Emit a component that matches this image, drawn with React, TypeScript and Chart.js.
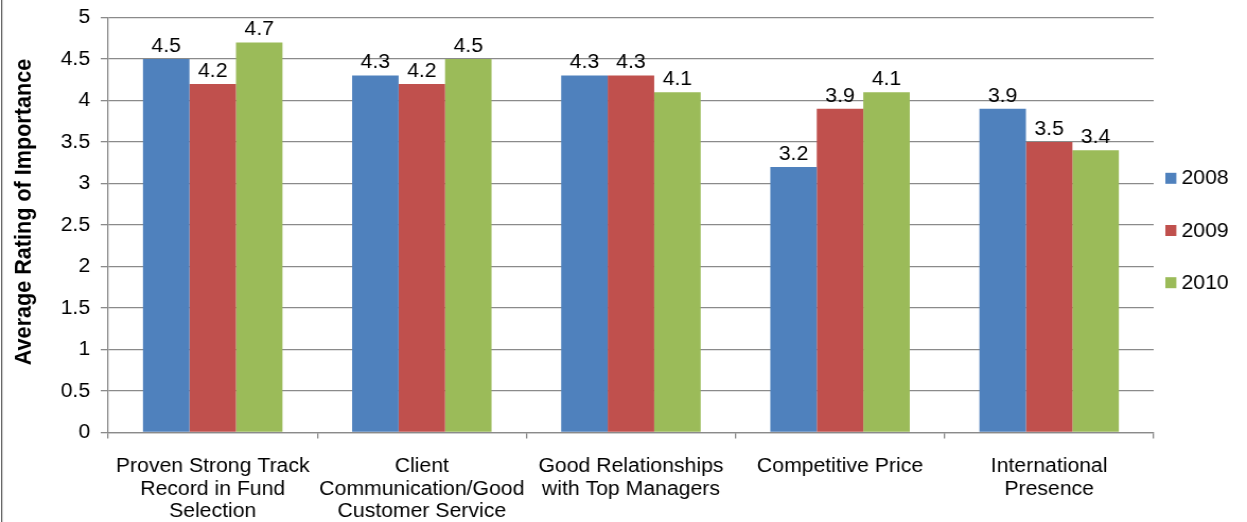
import { useEffect, useRef } from "react";
import { Chart, registerables } from "chart.js";

Chart.register(...registerables);

// Survey categories (multi-line axis labels)
const categories: string[][] = [
  ["Proven Strong Track", "Record in Fund", "Selection"],
  ["Client", "Communication/Good", "Customer Service"],
  ["Good Relationships", "with Top Managers"],
  ["Competitive Price"],
  ["International", "Presence"],
];

const seriesNames = ["2008", "2009", "2010"];
const values2008 = [4.5, 4.3, 4.3, 3.2, 3.9];
const values2009 = [4.2, 4.2, 4.3, 3.9, 3.5];
const values2010 = [4.7, 4.5, 4.1, 4.1, 3.4];
const seriesColors = ["#4F81BD", "#C0504D", "#9BBB59"];

const yMin = 0;
const yMax = 5;
const yStep = 0.5;
const yAxisTitle = "Average Rating of Importance";

const FONT = "'Liberation Sans', Arial, sans-serif";
const PAGE_W = 1247;
const PAGE_H = 522;
const CANVAS_W = 1176;
const STRETCH = PAGE_W / CANVAS_W;
const GRID = "#8a8a8a";

// Value labels, right-hand legend, rotated axis title and frame edge
const decorations = {
  id: "decorations",
  afterDatasetsDraw(chart: any) {
    const { ctx, chartArea } = chart;
    ctx.save();
    ctx.fillStyle = "#000";
    ctx.font = `20px ${FONT}`;
    ctx.textAlign = "center";
    ctx.textBaseline = "alphabetic";
    chart.data.datasets.forEach((ds: any, i: number) => {
      const meta = chart.getDatasetMeta(i);
      meta.data.forEach((bar: any, j: number) => {
        ctx.fillText(String(ds.data[j]), bar.x, bar.y - 7.3);
      });
    });

    // legend
    const boxX = chartArea.right + 11;
    ctx.textAlign = "left";
    ctx.textBaseline = "middle";
    chart.data.datasets.forEach((ds: any, i: number) => {
      const cy = 178.3 + i * 52.2;
      ctx.fillStyle = ds.backgroundColor;
      ctx.fillRect(boxX, cy - 5.5, 10.4, 11);
      ctx.fillStyle = "#000";
      ctx.fillText(ds.label, boxX + 15.2, cy + 0.5);
    });

    // y axis title
    ctx.save();
    ctx.translate(23.3, 212);
    ctx.rotate(-Math.PI / 2);
    ctx.font = `bold 21.6px ${FONT}`;
    ctx.textAlign = "center";
    ctx.textBaseline = "middle";
    ctx.fillStyle = "#000";
    ctx.fillText(yAxisTitle, 0, 0);
    ctx.restore();

    // left frame edge
    ctx.strokeStyle = "#4a4a4a";
    ctx.lineWidth = 1.1;
    ctx.beginPath();
    ctx.moveTo(1.6, 0);
    ctx.lineTo(1.6, chart.height);
    ctx.stroke();
    ctx.restore();
  },
};

export default function App() {
  const ref = useRef<HTMLCanvasElement | null>(null);

  useEffect(() => {
    document.body.style.margin = "0";
    const canvas = ref.current;
    if (!canvas) return;
    const valueSets = [values2008, values2009, values2010];
    const chart = new Chart(canvas, {
      type: "bar",
      data: {
        labels: categories,
        datasets: seriesNames.map((name, i) => ({
          label: name,
          data: valueSets[i],
          backgroundColor: seriesColors[i],
          borderWidth: 0,
          categoryPercentage: 0.667,
          barPercentage: 1,
        })),
      },
      options: {
        responsive: false,
        maintainAspectRatio: false,
        animation: false,
        devicePixelRatio: 1,
        layout: { padding: { top: 17.5, right: 88, left: 0, bottom: 0 } },
        plugins: {
          legend: { display: false },
          tooltip: { enabled: false },
          title: { display: false },
        },
        scales: {
          x: {
            grid: {
              offset: true,
              drawOnChartArea: false,
              drawTicks: true,
              tickLength: 6,
              color: GRID,
              lineWidth: 1.3,
            },
            border: { display: true, color: GRID, width: 1.3 },
            ticks: {
              color: "#000",
              padding: 17,
              maxRotation: 0,
              autoSkip: false,
              font: { family: FONT, size: 20, lineHeight: 1.12 },
            },
            afterFit(scale: any) {
              scale.height = 89.5;
              scale.paddingLeft = 0;
              scale.paddingRight = 0;
            },
          },
          y: {
            min: yMin,
            max: yMax,
            grid: {
              color: GRID,
              lineWidth: 1.3,
              drawTicks: true,
              tickLength: 7,
              tickColor: GRID,
            },
            border: { display: true, color: GRID, width: 1.3 },
            ticks: {
              stepSize: yStep,
              color: "#000",
              padding: 10,
              font: { family: FONT, size: 20, lineHeight: 0.8 },
              callback: (v: any) => String(v),
            },
            afterFit(scale: any) {
              scale.width = 102;
              scale.paddingTop = 0;
              scale.paddingBottom = 0;
            },
          },
        },
      },
      plugins: [decorations],
    });
    return () => chart.destroy();
  }, []);

  return (
    <div style={{ width: PAGE_W, height: PAGE_H, overflow: "hidden", background: "#fff" }}>
      <div
        style={{
          width: CANVAS_W,
          height: PAGE_H,
          transform: `scaleX(${STRETCH})`,
          transformOrigin: "0 0",
        }}
      >
        <canvas ref={ref} width={CANVAS_W} height={PAGE_H} style={{ display: "block" }} />
      </div>
    </div>
  );
}
